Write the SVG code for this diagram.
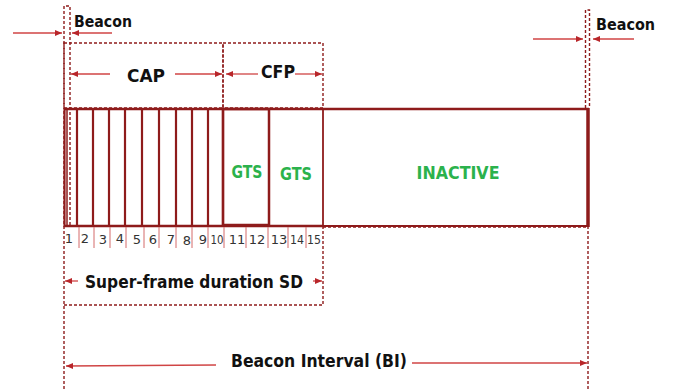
<svg xmlns="http://www.w3.org/2000/svg" width="674" height="389" viewBox="0 0 674 389">
<style>
.frame{stroke:#8e1b1b;fill:none}
.dash{stroke:#8e1b1b;fill:none;stroke-width:1.4;stroke-dasharray:3 2}
.slot{stroke:#8e1b1b;stroke-width:2.2}
.sep{stroke:#d46a6a;stroke-width:1}
.arr{stroke:#d04545;stroke-width:1.3;fill:none;marker-end:url(#ah)}
.lbl{font-family:"Century Gothic","URW Gothic","DejaVu Sans",sans-serif;font-weight:bold;fill:#111}
.green{font-family:"Century Gothic","URW Gothic","DejaVu Sans",sans-serif;font-weight:bold;fill:#2bb24c}
.num{font-family:"Century Gothic","DejaVu Sans",sans-serif;font-size:13px;fill:#333;text-anchor:middle}
</style>
<defs>
<marker id="ah" markerWidth="8" markerHeight="8" refX="7" refY="4" orient="auto" markerUnits="userSpaceOnUse">
<path d="M0,1 L7,4 L0,7 Z" fill="#b8262a"/>
</marker>
</defs>
<rect width="674" height="389" fill="#fff"/>

<g id="beacon-left">
<path class="dash" d="M64,389 V6 H70 V226"/>
<text class="lbl" x="74" y="27" font-size="15" textLength="58" lengthAdjust="spacingAndGlyphs">Beacon</text>
</g>
<g id="beacon-right">
<path class="dash" d="M585.5,108 V10 H589.5 V108"/>
<path class="dash" d="M588,226 V389"/>
<text class="lbl" x="596" y="30" font-size="15" textLength="59" lengthAdjust="spacingAndGlyphs">Beacon</text>
</g>

<g id="cap">
<rect class="dash" x="64" y="43" width="159" height="65"/>
<text class="lbl" x="146" y="82" font-size="18" text-anchor="middle" textLength="38" lengthAdjust="spacingAndGlyphs">CAP</text>
</g>
<g id="cfp">
<rect class="dash" x="223" y="43" width="100" height="65"/>
<text class="lbl" x="278" y="78" font-size="17" text-anchor="middle" textLength="34" lengthAdjust="spacingAndGlyphs">CFP</text>
</g>

<g id="superframe">
<line class="frame" stroke-width="2.5" x1="64" y1="109" x2="589" y2="109"/>
<line class="frame" stroke-width="2.5" x1="64" y1="226" x2="323" y2="226"/>
<line class="frame" stroke-width="1.8" x1="323" y1="226" x2="587" y2="226"/>
<line class="frame" stroke-width="2.2" x1="64.5" y1="108" x2="64.5" y2="227"/>
<line class="frame" stroke-width="1.5" x1="67" y1="108" x2="67" y2="227"/>
<line class="slot" x1="77" y1="109" x2="77" y2="226"/>
<line class="slot" x1="93" y1="109" x2="93" y2="226"/>
<line class="slot" x1="109" y1="109" x2="109" y2="226"/>
<line class="slot" x1="125" y1="109" x2="125" y2="226"/>
<line class="slot" x1="142" y1="109" x2="142" y2="226"/>
<line class="slot" x1="159" y1="109" x2="159" y2="226"/>
<line class="slot" x1="176" y1="109" x2="176" y2="226"/>
<line class="slot" x1="192" y1="109" x2="192" y2="226"/>
<line class="slot" x1="208" y1="109" x2="208" y2="226"/>
<line class="slot" x1="223" y1="109" x2="223" y2="226"/>
<rect class="frame" stroke-width="2.5" x="223" y="109" width="46" height="116"/>
<line class="frame" stroke-width="1.8" x1="323" y1="109" x2="323" y2="226"/>
<line class="frame" stroke-width="3.5" x1="588" y1="108" x2="588" y2="227"/>
</g>

<g id="gts1"><text class="green" x="247" y="178" font-size="17" text-anchor="middle" textLength="31" lengthAdjust="spacingAndGlyphs">GTS</text></g>
<g id="gts2"><text class="green" x="296" y="180" font-size="17" text-anchor="middle" textLength="32" lengthAdjust="spacingAndGlyphs">GTS</text></g>
<g id="inactive"><text class="green" x="458" y="179" font-size="18" text-anchor="middle" textLength="83" lengthAdjust="spacingAndGlyphs">INACTIVE</text></g>

<g id="slot-numbers">
<line class="sep" x1="79" y1="227" x2="79" y2="248"/>
<line class="sep" x1="94" y1="227" x2="94" y2="248"/>
<line class="sep" x1="110" y1="227" x2="110" y2="248"/>
<line class="sep" x1="126" y1="227" x2="126" y2="248"/>
<line class="sep" x1="144" y1="227" x2="144" y2="248"/>
<line class="sep" x1="159" y1="227" x2="159" y2="248"/>
<line class="sep" x1="176" y1="227" x2="176" y2="248"/>
<line class="sep" x1="192" y1="227" x2="192" y2="248"/>
<line class="sep" x1="208" y1="227" x2="208" y2="248"/>
<line class="sep" x1="224" y1="227" x2="224" y2="248"/>
<line class="sep" x1="246" y1="227" x2="246" y2="248"/>
<line class="sep" x1="268" y1="227" x2="268" y2="248"/>
<line class="sep" x1="288" y1="227" x2="288" y2="248"/>
<line class="sep" x1="306" y1="227" x2="306" y2="248"/>
<text class="num" x="69" y="243">1</text>
<text class="num" x="85" y="243">2</text>
<text class="num" x="103" y="244">3</text>
<text class="num" x="120" y="243">4</text>
<text class="num" x="137" y="244">5</text>
<text class="num" x="153" y="244">6</text>
<text class="num" x="171" y="244">7</text>
<text class="num" x="187" y="245">8</text>
<text class="num" x="203" y="244">9</text>
<text class="num" x="217" y="244" textLength="13" lengthAdjust="spacingAndGlyphs">10</text>
<text class="num" x="237" y="244">11</text>
<text class="num" x="257" y="244">12</text>
<text class="num" x="279" y="244">13</text>
<text class="num" x="297" y="244" textLength="14" lengthAdjust="spacingAndGlyphs">14</text>
<text class="num" x="314" y="244" textLength="14" lengthAdjust="spacingAndGlyphs">15</text>
</g>

<g id="sd">
<path class="dash" d="M64,305 H323 V226 M323,227 H587"/>
<text class="lbl" x="194" y="288" font-size="18" text-anchor="middle" textLength="218" lengthAdjust="spacingAndGlyphs">Super-frame duration SD</text>
</g>

<g id="bi">
<text class="lbl" x="319" y="367" font-size="18" text-anchor="middle" textLength="176" lengthAdjust="spacingAndGlyphs">Beacon Interval (BI)</text>
</g>

<g id="connectors">
<line class="arr" x1="13" y1="33" x2="62" y2="33"/>
<line class="arr" x1="112" y1="33" x2="72" y2="33"/>
<line class="arr" x1="533" y1="39" x2="583" y2="39"/>
<line class="arr" x1="634" y1="39" x2="593" y2="39"/>
<line class="arr" x1="110" y1="74" x2="71" y2="74"/>
<line class="arr" x1="175" y1="74" x2="222" y2="74"/>
<line class="arr" x1="258" y1="74" x2="226" y2="74"/>
<line class="arr" x1="295" y1="74" x2="322" y2="74"/>
<line class="arr" x1="78" y1="281" x2="65" y2="281"/>
<line class="arr" x1="313" y1="281" x2="322" y2="281"/>
<line class="arr" x1="216" y1="365" x2="66" y2="366"/>
<line class="arr" x1="412" y1="363" x2="587" y2="363"/>
</g>
</svg>
